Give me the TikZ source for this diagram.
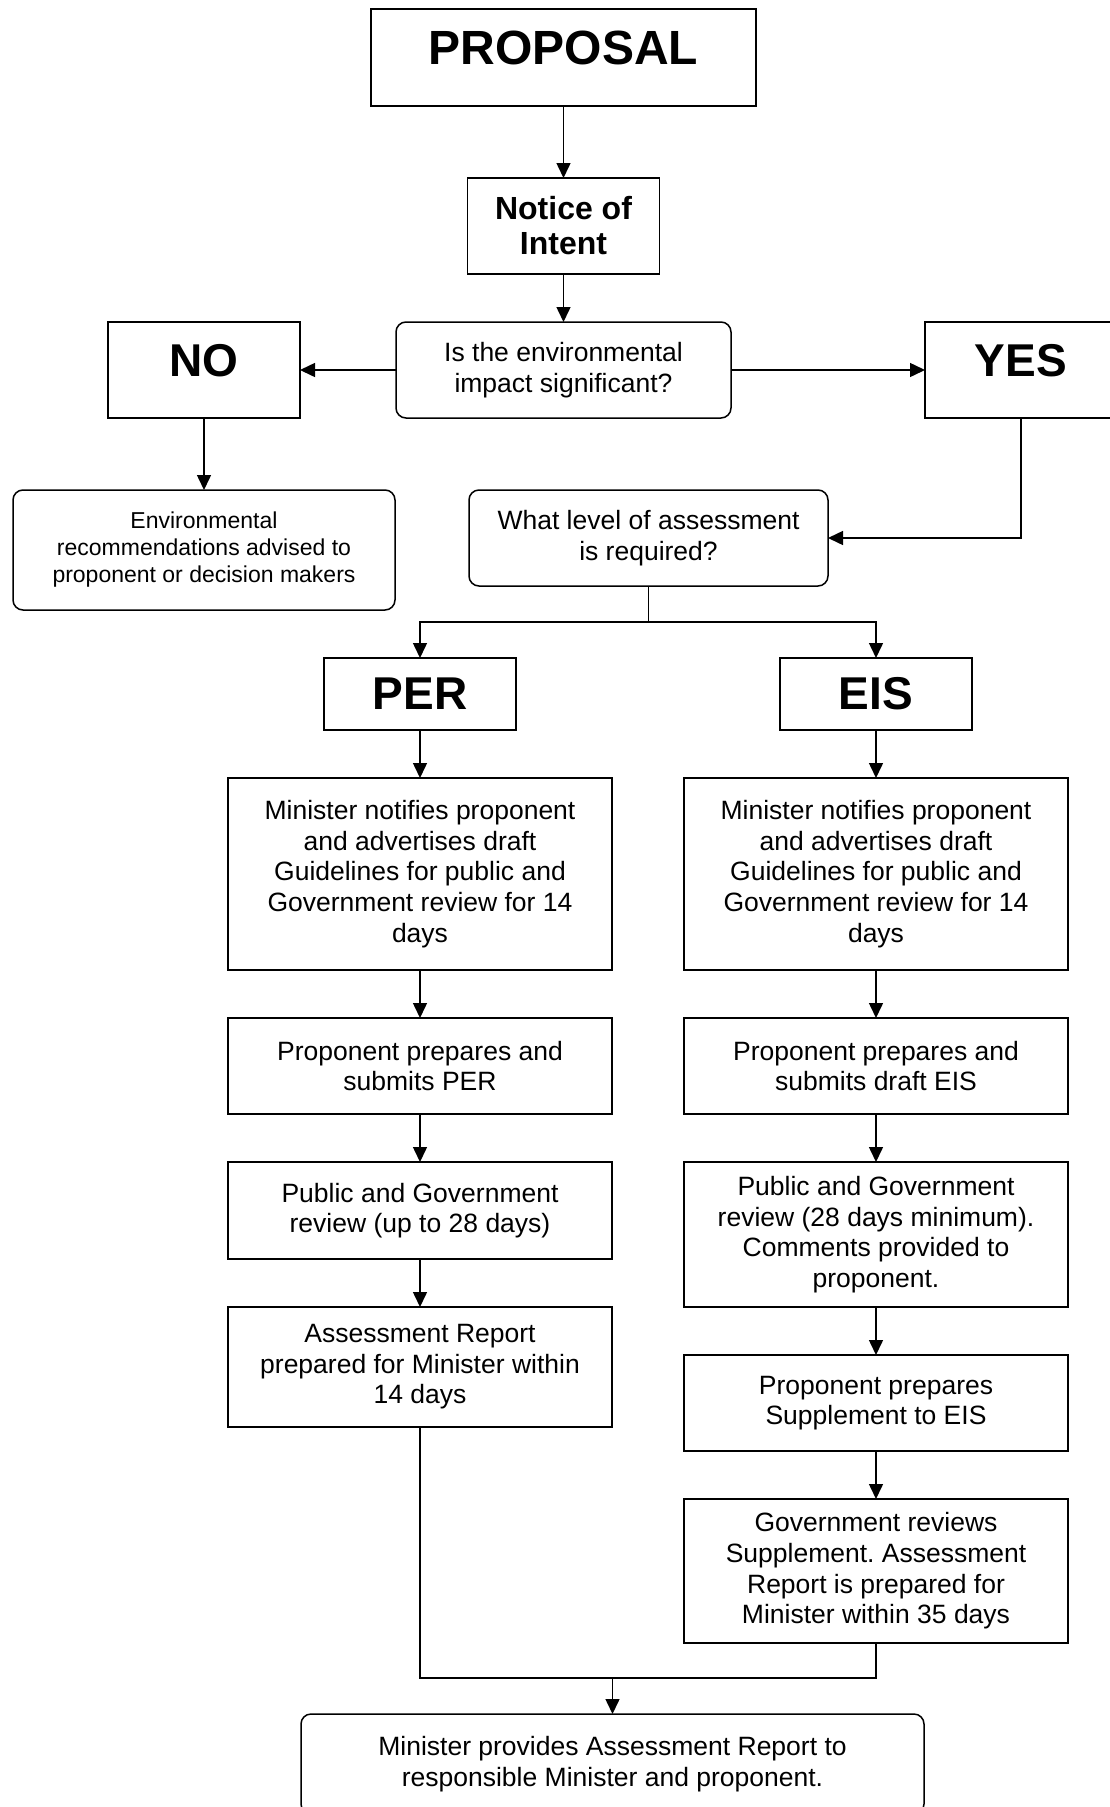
\documentclass[tikz,border=0pt]{standalone}
\usepackage{fontspec}
\setmainfont{Liberation Sans}
\usetikzlibrary{positioning,arrows.meta}
\frenchspacing

\begin{document}
\begin{tikzpicture}[
  x=1pt, y=1pt,
  font=\fontsize{26.5}{30.6}\selectfont,
  box/.style={draw, line width=1.5pt, outer sep=0pt, align=center, inner sep=4pt, minimum width=384pt},
  rbox/.style={box, rounded corners=10pt},
  head/.style={draw, line width=1.5pt, outer sep=0pt, align=center, minimum width=192pt, minimum height=96pt, font=\fontsize{46}{50}\selectfont\bfseries},
  arr/.style={-{Triangle[length=15pt, width=14pt]}, line width=1.5pt},
  line/.style={line width=1.5pt},
  node distance=48pt]

\clip (0,0) rectangle (1110,-1807);

\node[head, minimum width=385pt, minimum height=97pt, text depth=20pt, font=\fontsize{48}{52}\selectfont\bfseries] (proposal) at (563.5,-57.5) {PROPOSAL};
\node[head, font=\fontsize{32}{35}\selectfont\bfseries, below=72pt of proposal] (notice) {Notice of\\Intent};
\node[rbox, minimum width=335pt, minimum height=96pt, below=of notice] (sig) {Is the environmental\\impact significant?};
\node[head, text depth=20pt, left=96pt of sig] (no) {NO};
\node[head, text depth=20pt, right=194pt of sig] (yes) {YES};
\node[rbox, minimum width=382pt, minimum height=120pt, font=\fontsize{23}{27}\selectfont, below=72pt of no] (recom) {Environmental\\recommendations advised to\\proponent or decision makers};
\node[rbox, minimum width=359pt, minimum height=96pt, below=72pt of sig, xshift=85pt] (level) {What level of assessment\\is required?};
\coordinate[below=36pt of level.south] (fork);

\node[head, minimum height=72pt, below=72pt of level, xshift=-228.5pt] (per) {PER};
\node[head, minimum height=72pt, right=264pt of per] (eis) {EIS};

\node[box, minimum height=192pt, below=of per] (pnotify) {Minister notifies proponent\\and advertises draft\\Guidelines for public and\\Government review for 14\\days};
\node[box, minimum height=96pt, below=of pnotify] (psubmit) {Proponent prepares and\\submits PER};
\node[box, minimum height=97pt, below=of psubmit] (preview) {Public and Government\\review (up to 28 days)};
\node[box, minimum height=120pt, below=of preview] (preport) {Assessment Report\\prepared for Minister within\\14 days};

\node[box, minimum height=192pt, below=of eis] (enotify) {Minister notifies proponent\\and advertises draft\\Guidelines for public and\\Government review for 14\\days};
\node[box, minimum height=96pt, below=of enotify] (esubmit) {Proponent prepares and\\submits draft EIS};
\node[box, minimum height=145pt, below=of esubmit] (ereview) {Public and Government\\review (28 days minimum).\\Comments provided to\\proponent.};
\node[box, minimum height=96pt, below=of ereview] (supp) {Proponent prepares\\Supplement to EIS};
\node[box, minimum height=144pt, below=of supp] (govrev) {Government reviews\\Supplement. Assessment\\Report is prepared for\\Minister within 35 days};

\node[rbox, minimum width=623pt, minimum height=100pt, below=287pt of preport, xshift=192.5pt] (final) {Minister provides Assessment Report to\\responsible Minister and proponent.};
\coordinate[above=36pt of final.north] (join);

\draw[arr] (proposal) -- (notice);
\draw[arr] (notice) -- (sig);
\draw[arr] (sig) -- (no);
\draw[arr] (sig) -- (yes);
\draw[arr] (no) -- (recom);
\draw[arr] (yes.south) |- (level.east);
\draw[line] (level.south) -- (fork);
\draw[arr] (fork) -| (per.north);
\draw[arr] (fork) -| (eis.north);

\draw[arr] (per) -- (pnotify);
\draw[arr] (pnotify) -- (psubmit);
\draw[arr] (psubmit) -- (preview);
\draw[arr] (preview) -- (preport);

\draw[arr] (eis) -- (enotify);
\draw[arr] (enotify) -- (esubmit);
\draw[arr] (esubmit) -- (ereview);
\draw[arr] (ereview) -- (supp);
\draw[arr] (supp) -- (govrev);

\draw[line] (preport.south) |- (join);
\draw[line] (govrev.south) |- (join);
\draw[arr] (join) -- (final.north);
\end{tikzpicture}
\end{document}
